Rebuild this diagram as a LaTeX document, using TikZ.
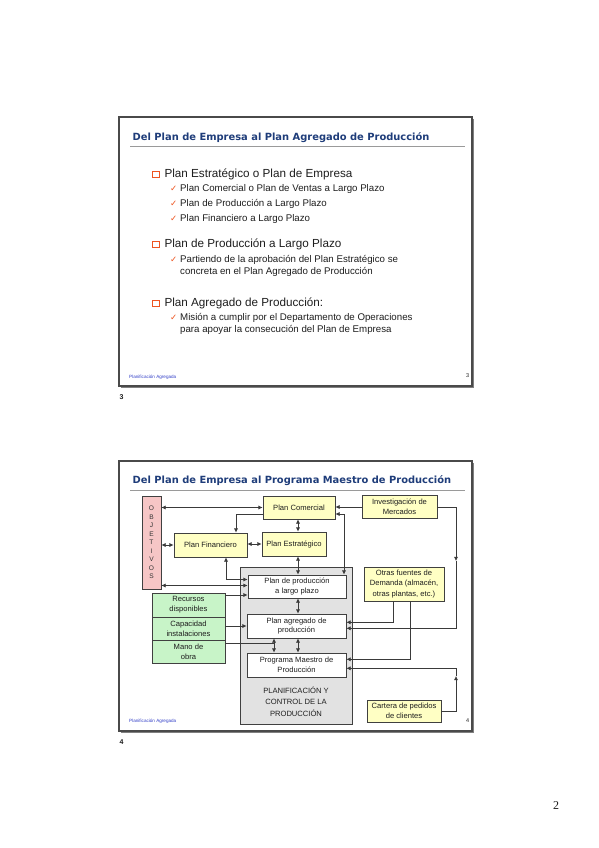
\documentclass[tikz,border=0pt]{standalone}
\usepackage{fontspec}
\setmainfont{Liberation Sans}
\newfontfamily\titlefont{DejaVu Sans}
\newfontfamily\symfont{DejaVu Sans}
\newfontfamily\pagefont{Liberation Serif}
\usetikzlibrary{arrows.meta,calc}
\definecolor{titleblue}{HTML}{1F3D7A}
\definecolor{bulletc}{HTML}{EE5522}
\definecolor{bodyc}{HTML}{1E1E1E}
\definecolor{framec}{HTML}{4A4A4A}
\definecolor{rulec}{HTML}{9A9A9A}
\definecolor{yfill}{HTML}{FFFFC4}
\definecolor{gfill}{HTML}{C8F4C8}
\definecolor{pfill}{HTML}{F6C6C6}
\definecolor{greyfill}{HTML}{E2E2E2}
\definecolor{boxline}{HTML}{404040}
\definecolor{lc}{HTML}{3A3A3A}
\definecolor{footc}{HTML}{3340C8}
\newcommand\dfont{\fontsize{7.6}{9.8}\selectfont}
\newcommand\tfont{\titlefont\bfseries\fontsize{9.9}{12}\selectfont}
\newcommand\bigfont{\fontsize{11.7}{14}\selectfont}
\newcommand\subfont{\fontsize{9.7}{12}\selectfont}
\newcommand\chk{{\symfont\fontsize{8.5}{9}\selectfont\color{bulletc}✓}}
\begin{document}
\begin{tikzpicture}[x=1pt,y=-1pt,
  slide/.style={draw=framec,line width=1.6pt,fill=white},
  shadowl/.style={draw=framec!70,line width=1.2pt},
  trule/.style={draw=rulec,line width=1.4pt},
  ttl/.style={anchor=base west,inner sep=0pt,font=\tfont,text=titleblue},
  big/.style={anchor=base west,inner sep=0pt,font=\bigfont,text=bodyc},
  sub/.style={anchor=base west,inner sep=0pt,font=\subfont,text=bodyc,align=left},
  chkn/.style={anchor=base west,inner sep=0pt},
  sq/.style={draw=bulletc,line width=1.1pt},
  foot/.style={inner sep=0pt,font=\fontsize{4.6}{5}\selectfont,text=footc},
  pnum/.style={inner sep=0pt,font=\fontsize{5.5}{6}\selectfont,text=bodyc},
  basebox/.style={draw=boxline,line width=0.8pt,inner sep=0pt,align=center,font=\dfont,text=bodyc},
  ybox/.style={basebox,fill=yfill},
  gbox/.style={basebox,fill=gfill},
  wbox/.style={basebox,fill=white},
  arr/.style={draw=lc,line width=0.7pt,-{Latex[length=4.2pt,width=4.2pt]}},
  dbl/.style={draw=lc,line width=0.7pt,{Latex[length=4.2pt,width=4.2pt]}-{Latex[length=4.2pt,width=4.2pt]}},
  ln/.style={draw=lc,line width=0.7pt}]
\useasboundingbox[fill=white] (0,0) rectangle (599,848);

% ---------------- top slide ----------------
\draw[shadowl] (121,387.5) -- (473.5,387.5) -- (473.5,119);
\draw[slide] (119,117) rectangle (472,386);
\node[ttl] (t1) at (132.5,140.5) {Del Plan de Empresa al Plan Agregado de Producción};
\draw[trule] (130,146.7) -- (465,146.7);

\draw[sq] (152.6,171.2) rectangle (159.2,177.8);
\node[big] (b1) at (164.3,177.7) {Plan Estratégico o Plan de Empresa};
\node[chkn] (c11) at (170,191.7) {\chk};
\node[sub] (s11) at (180,191.7) {Plan Comercial o Plan de Ventas a Largo Plazo};
\node[chkn] (c12) at (170,206) {\chk};
\node[sub] (s12) at (180,206) {Plan de Producción a Largo Plazo};
\node[chkn] (c13) at (170,221) {\chk};
\node[sub] (s13) at (180,221) {Plan Financiero a Largo Plazo};

\draw[sq] (152.6,241.2) rectangle (159.2,247.8);
\node[big] (b2) at (164.3,247.7) {Plan de Producción a Largo Plazo};
\node[chkn] (c21) at (170,262.7) {\chk};
\node[sub] (s21) at (180,262.7) {Partiendo de la aprobación del Plan Estratégico se};
\node[sub] (s22) at (180,274.5) {concreta en el Plan Agregado de Producción};

\draw[sq] (152.6,300.2) rectangle (159.2,306.8);
\node[big] (b3) at (164.3,306.7) {Plan Agregado de Producción:};
\node[chkn] (c31) at (170,320.7) {\chk};
\node[sub] (s31) at (180,320.7) {Misión a cumplir por el Departamento de Operaciones};
\node[sub] (s32) at (180,332.7) {para apoyar la consecución del Plan de Empresa};

\node[foot,anchor=west] (f1) at (129,377.7) {Planificación Agregada};
\node[pnum] (n1) at (467.7,375.5) {3};
\node[inner sep=0pt,font=\bfseries\fontsize{7}{8}\selectfont,text=bodyc] (p3) at (121.5,397.5) {3};

% ---------------- bottom slide ----------------
\draw[shadowl] (121,732.5) -- (473.5,732.5) -- (473.5,463);
\draw[slide] (119,461) rectangle (472,731);
\node[ttl] (t2) at (132.5,483.5) {Del Plan de Empresa al Programa Maestro de Producción};
\draw[trule] (130,490.7) -- (465,490.7);

\node[draw=boxline,fill=greyfill,line width=0.8pt,minimum width=112,minimum height=157,inner sep=0pt] (grey) at (296,645.5) {};

\node[basebox,fill=pfill,minimum width=19,minimum height=93,font=\fontsize{6.6}{8.5}\selectfont,text=boxline!80!black] (obj) at (151.5,542.5) {O\\B\\J\\E\\T\\I\\V\\O\\S};
\node[ybox,minimum width=72,minimum height=23] (pc) at (299,507.5) {Plan Comercial};
\node[ybox,minimum width=75,minimum height=23] (inv) at (399.5,507) {Investigación de\\Mercados};
\node[ybox,minimum width=73,minimum height=24] (pf) at (210.5,545) {Plan Financiero};
\node[ybox,minimum width=64,minimum height=24] (pe) at (294,544) {Plan Estratégico};
\node[wbox,minimum width=98,minimum height=23] (ppl) at (297,586.5) {Plan de producción\\a largo plazo};
\node[wbox,minimum width=99,minimum height=24] (pag) at (296.5,626) {Plan agregado de\\producción};
\node[wbox,minimum width=99,minimum height=24] (pmp) at (296.5,665) {Programa Maestro de\\Producción};
\node[ybox,minimum width=80,minimum height=34,font=\fontsize{7.6}{10.3}\selectfont] (otras) at (404,584) {Otras fuentes de\\Demanda (almacén,\\otras plantas, etc.)};
\node[gbox,minimum width=73,minimum height=24] (rec) at (188.5,605) {Recursos\\disponibles};
\node[gbox,minimum width=73,minimum height=23] (cap) at (188.5,628.5) {Capacidad\\instalaciones};
\node[gbox,minimum width=73,minimum height=23] (mano) at (188.5,651.5) {Mano de\\obra};
\node[ybox,minimum width=74,minimum height=22] (cart) at (404,711) {Cartera de pedidos\\de clientes};
\node[inner sep=0pt,align=center,font=\fontsize{7.6}{11.5}\selectfont,text=bodyc] (plc) at (296,701.5) {PLANIFICACIÓN Y\\CONTROL DE LA\\PRODUCCIÓN};

\node[foot,anchor=west] (f2) at (129,721.7) {Planificación Agregada};
\node[pnum] (n2) at (467.7,721) {4};
\node[inner sep=0pt,font=\bfseries\fontsize{7}{8}\selectfont,text=bodyc] (p4) at (121.5,742.5) {4};

% helper coordinates
\coordinate (X) at (298,0);
\coordinate (XC) at (236,0);
\coordinate (XF) at (226,0);
\coordinate (XR) at (344,0);
\coordinate (XO1) at (393.3,0);
\coordinate (XO2) at (410,0);
\coordinate (Y514) at (0,514);
\coordinate (Y579) at (0,579.5);
\coordinate (Y585) at (0,585.5);
\coordinate (Y595) at (0,595);
\coordinate (Y622) at (0,622.3);
\coordinate (Y628) at (0,628.3);
\coordinate (Y659) at (0,659.3);
\coordinate (Y668) at (0,668.3);
\coordinate (M) at (274,643.5);
\coordinate (R1) at (456,561);
\coordinate (R2) at (456,676);

% connectors
\draw[dbl] (obj.east |- pc.west) -- (pc.west);
\draw[arr] (inv.west) -- (inv.west -| pc.east);
\draw[arr] (pc.west |- Y514) -| (pf.north -| XC);
\draw[dbl] (pc.south -| X) -- (pe.north -| X);
\draw[dbl] (pf.east |- pe.west) -- (pe.west);
\draw[dbl] (obj.east |- pf.west) -- (pf.west);
\draw[dbl] (pe.south -| X) -- (ppl.north -| X);
\draw[dbl] (obj.east |- Y585) -- (ppl.west |- Y585);
\draw[dbl] (pf.south -| XF) |- (ppl.west |- Y579);
\draw[arr] (rec.east |- Y595) -- (ppl.west |- Y595);
\draw[arr] (cap.east |- pag.west) -- (pag.west);
\draw[ln] (mano.east |- M) -- (M);
\draw[arr] (M) -- (pag.south -| M);
\draw[arr] (M) -- (pmp.north -| M);
\draw[dbl] (ppl.south -| X) -- (pag.north -| X);
\draw[dbl] (pag.south -| X) -- (pmp.north -| X);
\draw[dbl] (ppl.north -| XR) |- (pc.east |- Y514);
\draw[arr] (inv.east) -| (R1);
\draw[arr] (R1) |- (pag.east |- Y628);
\draw[arr] (cart.east) -| (R2);
\draw[arr] (R2) |- (pmp.east |- Y668);
\draw[arr] (otras.south -| XO1) |- (pag.east |- Y622);
\draw[arr] (otras.south -| XO2) |- (pmp.east |- Y659);

% page number
\node[inner sep=0pt,font=\pagefont\fontsize{12}{14}\selectfont,text=bodyc] (pg) at (556,806) {2};
\end{tikzpicture}
\end{document}
